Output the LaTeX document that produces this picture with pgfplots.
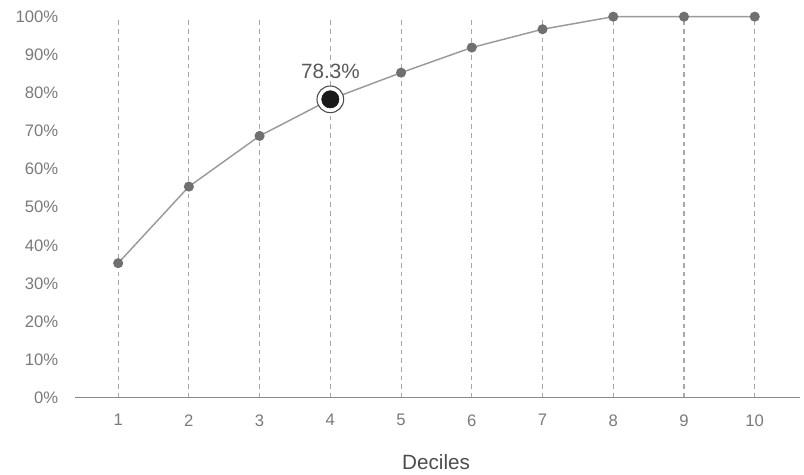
\documentclass[border=0pt]{standalone}
\usepackage{pgfplots}
\pgfplotsset{compat=1.18}
\usepackage{fontspec}
\setmainfont{Liberation Sans}
\definecolor{tickgray}{HTML}{7A7A7A}
\definecolor{linegray}{HTML}{9A9A9A}
\definecolor{markgray}{HTML}{707070}
\definecolor{gridgray}{HTML}{A8A8A8}
\definecolor{axisgray}{HTML}{8A8A8A}
\begin{document}
\begin{tikzpicture}
\useasboundingbox (-56.25pt,-58pt) rectangle (546.75pt,298.25pt);
\begin{axis}[
  at={(0,0)}, anchor=south west,
  scale only axis,
  width=543.75pt, height=285.75pt,
  xmin=0.39, xmax=10.64, ymin=0, ymax=100,
  clip=false,
  axis lines*=left,
  y axis line style={draw=none},
  x axis line style={draw=axisgray, line width=1.1pt, -},
  major tick length=0pt,
  xtick={1,...,10},
  ytick={0,10,...,100},
  yticklabel={\pgfmathprintnumber{\tick}\%},
  /pgf/number format/assume math mode=true,
  ticklabel style={font=\fontsize{12.5}{14}\selectfont, text=tickgray},
  yticklabel style={anchor=east, xshift=-9pt},
  xticklabel style={anchor=north, yshift=-9pt},
  xmajorgrids=true,
  grid style={draw=gridgray, line width=0.8pt, dash pattern=on 3.5pt off 3pt},
  xlabel={Deciles},
  xlabel style={at={(axis description cs:0.498,0)}, anchor=center, yshift=-48pt,
    font=\fontsize{15.5}{17}\selectfont, text=black!70},
]
\addplot[color=linegray, line width=1.1pt, mark=*, mark size=3.2pt,
  mark options={fill=markgray, draw=markgray}]
  coordinates {(1,35.3) (2,55.4) (3,68.7) (4,78.3) (5,85.3) (6,91.9) (7,96.7) (8,100) (9,100) (10,100)};
\addplot[only marks, mark=*, mark size=10pt, mark options={fill=white, draw=black!70, line width=0.8pt}]
  coordinates {(4,78.3)};
\addplot[only marks, mark=*, mark size=6.5pt, mark options={fill=black!90, draw=black!90}]
  coordinates {(4,78.3)};
\node[font=\fontsize{15.5}{17}\selectfont, text=black!65] at (axis cs:4,78.3) [yshift=21pt] {78.3\%};
\end{axis}
\end{tikzpicture}
\end{document}
